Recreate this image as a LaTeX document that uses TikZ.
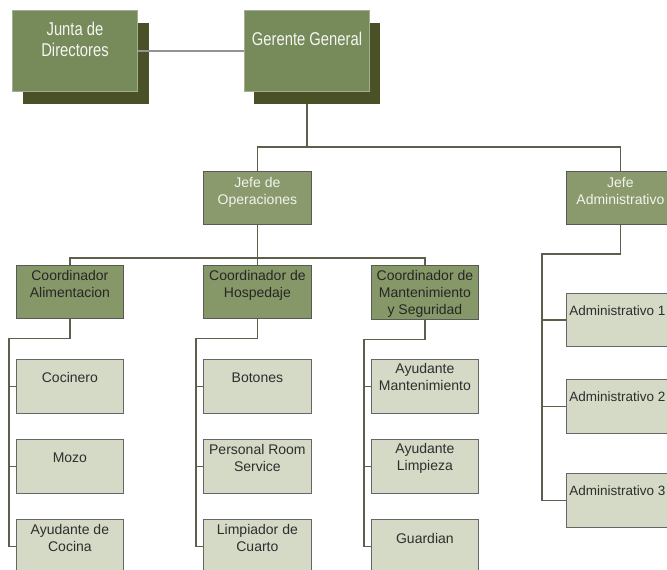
\documentclass[tikz,border=0pt]{standalone}
\usepackage{fontspec}
\setmainfont{Liberation Sans}
\newfontfamily\altafont{Liberation Sans}[FakeStretch=0.8]

\definecolor{topfill}{HTML}{768A5A}
\definecolor{topedge}{HTML}{A3AF91}
\definecolor{sombra}{HTML}{4A5126}
\definecolor{jefefill}{HTML}{8A9A6C}
\definecolor{coordfill}{HTML}{879868}
\definecolor{puestofill}{HTML}{D4DAC6}
\definecolor{linea}{HTML}{5E5E4C}

% text placed from the top of a box: width, height, gap, text
\newcommand{\cajatexto}[4]{\parbox[t][#2][t]{#1}{\centering\vspace*{#3}#4}}

\tikzset{
    sombrabox/.style={fill=sombra, inner sep=0pt, anchor=north west,
        minimum width=126pt, minimum height=81pt},
    topbox/.style={draw=topedge, line width=1pt, fill=topfill, text=white!92!topfill,
        inner sep=0pt, anchor=north west, font=\altafont\fontsize{18.5}{21}\selectfont},
    jefebox/.style={draw=gray!70!black, line width=0.8pt, fill=jefefill, text=white!88!jefefill,
        inner sep=0pt, anchor=north west, font=\fontsize{14}{17}\selectfont},
    coordbox/.style={draw=black!65, line width=0.8pt, fill=coordfill, text=black!85,
        inner sep=0pt, anchor=north west, font=\fontsize{14}{17}\selectfont},
    puestobox/.style={draw=gray!80!black, line width=0.8pt, fill=puestofill, text=black!82,
        inner sep=0pt, anchor=north west, font=\fontsize{14}{17}\selectfont},
    admbox/.style={puestobox, font=\fontsize{13.5}{17}\selectfont},
    conn/.style={draw=linea, line width=1.2pt},
}

\begin{document}
\begin{tikzpicture}[x=1pt, y=-1pt]
    \useasboundingbox (0,0) rectangle (667,570);
    \clip (0,0) rectangle (667,570);

    % top level with shadows
    \node [sombrabox] (juntas) at (23,23) {};
    \node [sombrabox] (gerentes) at (254,23) {};
    \node [topbox] (junta) at (12,10) {\cajatexto{125pt}{81pt}{12pt}{Junta de\\Directores}};
    \node [topbox] (gerente) at (244,10) {\cajatexto{125pt}{81pt}{22pt}{Gerente General}};

    % jefes
    \node [jefebox] (jop) at (203,171) {\cajatexto{108pt}{53pt}{6pt}{Jefe de\\Operaciones}};
    \node [jefebox] (jadm) at (566,171) {\cajatexto{108pt}{53pt}{6pt}{Jefe\\Administrativo}};

    % coordinadores
    \node [coordbox] (calim) at (16,265) {\cajatexto{107pt}{53pt}{5pt}{Coordinador\\Alimentacion}};
    \node [coordbox] (chosp) at (203,265) {\cajatexto{108pt}{53pt}{5pt}{Coordinador de\\Hospedaje}};
    \node [coordbox] (cmant) at (371,265) {\cajatexto{107pt}{54pt}{5pt}{Coordinador de\\Mantenimiento\\y Seguridad}};

    % puestos
    \node [puestobox] (ali1) at (16,359) {\cajatexto{107pt}{54pt}{13pt}{Cocinero}};
    \node [puestobox] (ali2) at (16,439) {\cajatexto{107pt}{54pt}{13pt}{Mozo}};
    \node [puestobox] (ali3) at (16,519) {\cajatexto{107pt}{54pt}{5pt}{Ayudante de\\Cocina}};
    \node [puestobox] (hos1) at (203,359) {\cajatexto{108pt}{54pt}{13pt}{Botones}};
    \node [puestobox] (hos2) at (203,439) {\cajatexto{108pt}{54pt}{5pt}{Personal Room\\Service}};
    \node [puestobox] (hos3) at (203,519) {\cajatexto{108pt}{54pt}{5pt}{Limpiador de\\Cuarto}};
    \node [puestobox] (man1) at (371,359) {\cajatexto{107pt}{54pt}{4pt}{Ayudante\\Mantenimiento}};
    \node [puestobox] (man2) at (371,439) {\cajatexto{107pt}{54pt}{4pt}{Ayudante\\Limpieza}};
    \node [puestobox] (man3) at (371,519) {\cajatexto{107pt}{54pt}{14pt}{Guardian}};
    \node [admbox] (adm1) at (566,293) {\cajatexto{108pt}{53pt}{12pt}{\hspace*{-6pt}Administrativo 1}};
    \node [admbox] (adm2) at (566,379) {\cajatexto{108pt}{54pt}{12pt}{\hspace*{-6pt}Administrativo 2}};
    \node [admbox] (adm3) at (566,473) {\cajatexto{108pt}{54pt}{12pt}{\hspace*{-6pt}Administrativo 3}};

    % connectors
    \coordinate (bus1) at (307,147);
    \coordinate (bus2) at (257,258);
    \coordinate (busA) at (542,254);
    \draw [conn, draw=gray!85] (junta.east) -- (gerente.west);
    \draw [conn] (gerente.south |- gerentes.south) -- (bus1);
    \draw [conn] (jop.north) -- (jop.north |- bus1) -| (jadm.north);
    \draw [conn] (jop.south) -- (chosp.north);
    \draw [conn] (calim.north) |- (bus2) -| (cmant.north);
    \draw [conn] (jadm.south) |- (busA) -- (busA |- adm3.west) -- (adm3.west);
    \draw [conn] (busA |- adm1.west) -- (adm1.west);
    \draw [conn] (busA |- adm2.west) -- (adm2.west);
    \foreach \coord/\p in {calim/ali, chosp/hos, cmant/man} {
        \draw [conn] (\coord.south) -- ++(0,20) -| ([xshift=-7pt]\p1.west)
            -- ([xshift=-7pt]\p3.west) -- (\p3.west);
        \draw [conn] ([xshift=-7pt]\p1.west) -- (\p1.west);
        \draw [conn] ([xshift=-7pt]\p2.west) -- (\p2.west);
    }
\end{tikzpicture}
\end{document}
